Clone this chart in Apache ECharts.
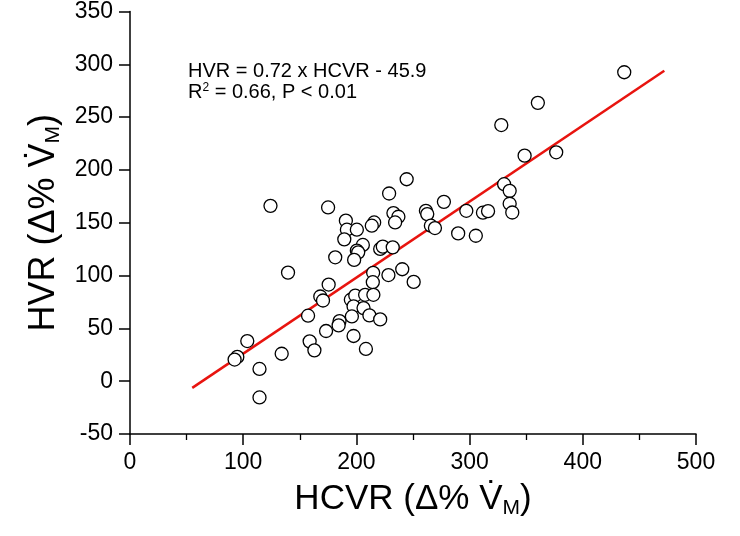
<!DOCTYPE html>
<html>
<head>
<meta charset="utf-8">
<script src="https://cdn.jsdelivr.net/npm/echarts@6/dist/echarts.min.js"></script>
<style>
html,body{margin:0;padding:0;background:#fff;}
#chart{width:740px;height:536px;}
</style>
</head>
<body>
<div id="chart"></div>
<script>
// HCVR values (x) and HVR values (y)
var hcvr = [436.6, 360.3, 328, 348.6, 376.5, 244.4, 228.9, 330.5, 335.4, 124.1,
  175, 277.3, 190.7, 215.7, 213.6, 261.4, 262.6, 232.7, 237.1, 234.2,
  297.1, 311.8, 316.3, 335.4, 337.7, 191.6, 200.4, 189.3, 205.7, 200.4,
  201.6, 221, 223.3, 232.1, 265.8, 269.4, 289.9, 305.5, 181.3, 198,
  139.6, 175.5, 240.5, 228.3, 214.8, 250.6, 214.5, 168.1, 170.5, 195.1,
  199, 207.7, 215, 197.5, 206.3, 196, 211.5, 221, 185.1, 184.3,
  173.2, 197.5, 158.7, 162.9, 208.4, 157.3, 103.6, 94.8, 92.4, 114.4,
  114.4, 134];
var hvr = [292.5, 263.5, 242.5, 213.5, 216.7, 191.2, 177.7, 186.5, 180.2, 166,
  164.5, 169.8, 152, 150.3, 147.2, 161.3, 158.2, 159.2, 155.7, 150.3,
  161.3, 159.5, 161, 168, 159.7, 143.4, 143.4, 134.3, 129, 123.6,
  122, 125.2, 127.4, 126.7, 147.2, 145, 139.9, 137.7, 117.3, 114.8,
  102.8, 91.5, 106, 100.5, 102.6, 94, 93.7, 80.2, 76.4, 77.1,
  81.1, 81.8, 81.8, 70.8, 69.2, 61.3, 62.3, 58.5, 56.9, 52.8,
  47.5, 42.8, 37.7, 29.2, 30.5, 62, 38, 23, 20.5, 11.6,
  -15.4, 26];
// regression line from the stated equation
var fitSlope = 0.72;
var fitIntercept = -45.9;
var fitRange = [55, 472];
// axis ticks
var xTicks = [0, 100, 200, 300, 400, 500];
var yTicks = [-50, 0, 50, 100, 150, 200, 250, 300, 350];
var eqText = 'HVR = 0.72 x HCVR - 45.9';

var points = hcvr.map(function (x, i) { return [x, hvr[i]]; });
var fitLine = fitRange.map(function (x) { return [x, fitSlope * x + fitIntercept]; });

var FONT = '"Liberation Sans", Arial, sans-serif';
var axisLineStyle = { color: '#000', width: 1.5 };

var chart = echarts.init(document.getElementById('chart'), null, { renderer: 'canvas' });
chart.setOption({
  animation: false,
  backgroundColor: '#fff',
  grid: { left: 130, right: 44, top: 10, bottom: 102, containLabel: false },
  xAxis: {
    type: 'value',
    min: xTicks[0], max: xTicks[xTicks.length - 1], interval: 100,
    name: '{t|HCVR (\u0394% V\u0307}{s|M}{t|)}',
    nameLocation: 'middle', nameGap: 46,
    nameTextStyle: {
      fontFamily: FONT, color: '#000',
      rich: {
        t: { fontFamily: FONT, fontSize: 35, color: '#000' },
        s: { fontFamily: FONT, fontSize: 21, color: '#000', verticalAlign: 'bottom', padding: [18, 0, 0, 0] }
      }
    },
    axisLine: { onZero: false, lineStyle: axisLineStyle },
    axisTick: { show: true, inside: false, length: 11, lineStyle: axisLineStyle },
    minorTick: { show: true, splitNumber: 2, length: 6, lineStyle: { color: '#000', width: 1.3 } },
    axisLabel: { fontFamily: FONT, fontSize: 23, color: '#000', margin: 17 },
    splitLine: { show: false }
  },
  yAxis: {
    type: 'value',
    min: yTicks[0], max: yTicks[yTicks.length - 1], interval: 50,
    name: '{t|HVR (\u0394% V\u0307}{s|M}{t|)}',
    nameLocation: 'middle', nameGap: 60,
    nameTextStyle: {
      fontFamily: FONT, color: '#000',
      rich: {
        t: { fontFamily: FONT, fontSize: 36, color: '#000' },
        s: { fontFamily: FONT, fontSize: 21, color: '#000', verticalAlign: 'bottom', padding: [18, 0, 0, 0] }
      }
    },
    axisLine: { onZero: false, lineStyle: axisLineStyle },
    axisTick: { show: true, inside: false, length: 11, lineStyle: axisLineStyle },
    axisLabel: { fontFamily: FONT, fontSize: 23, color: '#000', margin: 17 },
    splitLine: { show: false }
  },
  graphic: [
    {
      type: 'text', left: 188, top: 61, silent: true,
      style: { text: eqText, font: '20px ' + FONT, fill: '#000' }
    },
    {
      type: 'text', left: 188, top: 82, silent: true,
      style: {
        text: '{n|R}{p|2}{n| = 0.66, P < 0.01}',
        fill: '#000',
        rich: {
          n: { fontFamily: FONT, fontSize: 20, fill: '#000', color: '#000' },
          p: { fontFamily: FONT, fontSize: 12, fill: '#000', color: '#000', verticalAlign: 'top' }
        }
      }
    }
  ],
  series: [
    {
      type: 'line',
      data: fitLine,
      symbol: 'none',
      lineStyle: { color: '#e8140f', width: 2.5 },
      z: 2
    },
    {
      type: 'scatter',
      data: points,
      symbol: 'circle',
      symbolSize: 13,
      itemStyle: { color: '#fff', borderColor: '#000', borderWidth: 1.3, opacity: 1 },
      z: 3
    }
  ]
});
</script>
</body>
</html>
